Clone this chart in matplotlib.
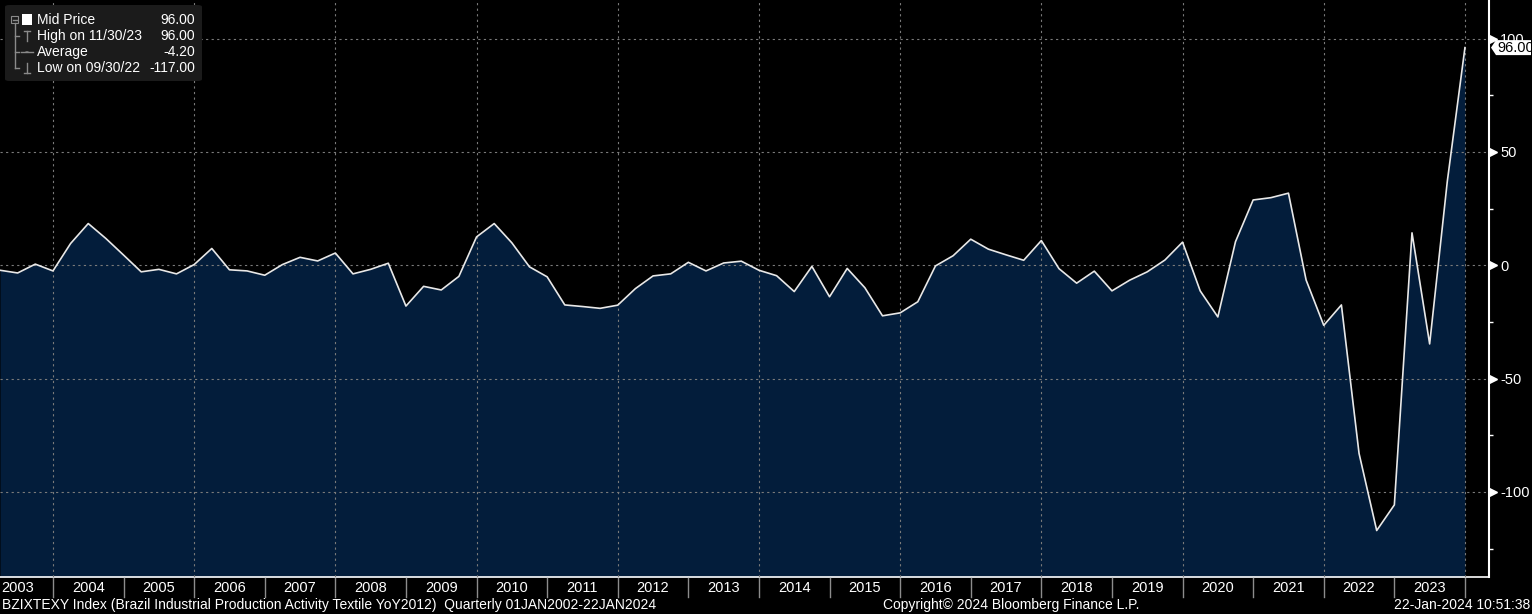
import matplotlib
matplotlib.use("Agg")
import matplotlib.pyplot as plt
from matplotlib.patches import Polygon, Rectangle, FancyBboxPatch, Circle
from matplotlib.lines import Line2D
import matplotlib.transforms as mtransforms
import pandas as pd

# ---------------- data ----------------
quarters = pd.period_range("2003Q1", "2023Q4", freq="Q")
values = [
    -2.2, -3.4, 0.5, -2.5,
    9.6, 18.4, 11.8, 4.5,
    -2.9, -1.8, -3.8, 0.3,
    7.4, -2.0, -2.5, -4.4,
    0.3, 3.5, 1.9, 5.4,
    -3.8, -1.8, 0.9, -18.0,
    -9.3, -10.9, -4.9, 12.5,
    18.4, 9.9, -0.7, -5.1,
    -17.5, -18.2, -19.0, -17.6,
    -10.3, -4.7, -3.8, 1.3,
    -2.5, 1.0, 1.8, -2.2,
    -4.6, -11.6, -0.5, -13.9,
    -1.4, -9.9, -22.3, -21.0,
    -16.1, -0.3, 4.2, 11.5,
    7.1, 4.6, 2.2, 10.9,
    -1.5, -7.9, -2.6, -11.3,
    -6.6, -2.9, 2.3, 10.2,
    -11.3, -22.8, 10.4, 28.8,
    29.8, 31.8, -6.5, -26.5,
    -17.5, -83.0, -117.0, -105.7,
    14.3, -34.7, 37.0, 96.0,
]
year_labels = [str(y) for y in range(2003, 2024)]
y_ticks = [-100, -50, 0, 50, 100]
y_minor = [-125, -75, -25, 25, 75]
legend_rows = [("Mid Price", "96.00"), ("High on 11/30/23", "96.00"),
               ("Average", "-4.20"), ("Low on 09/30/22", "-117.00")]
last_label = "96.00"
footer_left = "BZIXTEXY Index (Brazil Industrial Production Activity Textile YoY2012)  Quarterly 01JAN2002-22JAN2024"
footer_mid = "Copyright\u00a9 2024 Bloomberg Finance L.P."
footer_right = "22-Jan-2024 10:51:38"

# quarter-end position in decimal years
xpos = [q.year + q.quarter / 4.0 for q in quarters]

FONT = ["Liberation Sans", "DejaVu Sans"]
plt.rcParams["font.family"] = FONT

W, H = 1532, 614
fig = plt.figure(figsize=(W / 100, H / 100), dpi=100, facecolor="black")


def fx(x):
    return x / W


def fy(y):
    return 1 - y / H


AX_R, AX_B = 1489, 577
ax = fig.add_axes([0, fy(AX_B), fx(AX_R), AX_B / H])
ax.set_facecolor("black")
px_per_year = 70.6
x0 = 2003.25
ax.set_xlim(x0, x0 + AX_R / px_per_year)
ax.set_ylim(-137.5, 117.0)

ybot = ax.get_ylim()[0]
ax.fill_between(xpos, values, ybot, color="#031d3b", lw=0, zorder=1)
ax.plot(xpos, values, color="#e8e8e8", lw=1.2, zorder=3)

# grid
ax.set_axisbelow(False)
ax.set_xticks(list(range(2004, 2025, 2)))
ax.tick_params(axis="x", length=0, labelbottom=False)
ax.yaxis.tick_right()
ax.set_yticks(y_ticks)
ax.set_yticklabels([str(v) for v in y_ticks])
ax.set_yticks(y_minor, minor=True)
ax.tick_params(axis="y", which="major", length=0, pad=8, labelcolor="white",
               labelsize=10.5)
ax.tick_params(axis="y", which="minor", length=3, width=1, color="white",
               direction="out")
ax.grid(True, which="major", color="#7a7a7a", lw=0.8, ls=(0, (2, 3)))

for s in ["top", "left"]:
    ax.spines[s].set_visible(False)
ax.spines["right"].set_color("white")
ax.spines["right"].set_linewidth(1.5)
ax.spines["bottom"].set_color("white")
ax.spines["bottom"].set_linewidth(1.2)

# triangle major ticks
btrans = mtransforms.blended_transform_factory(ax.transAxes, ax.transData)
ax.plot([1.0 + 4.0 / AX_R] * len(y_ticks), y_ticks, ls="none", marker=">",
        ms=5.5, color="white", transform=btrans, clip_on=False, zorder=5)

# year labels and separators
xtr = mtransforms.blended_transform_factory(ax.transData, fig.transFigure)
for lab in year_labels:
    yv = int(lab)
    fig.text(yv + 0.5, fy(588), lab, transform=xtr, ha="center", va="center",
             color="white", fontsize=10.5, family=FONT)
for yb in range(2004, 2025):
    fig.add_artist(Line2D([yb, yb], [fy(578), fy(597)], transform=xtr,
                          color="#8c8c8c", lw=1))

# footer
fig.text(fx(2), fy(605), footer_left, ha="left", va="center", color="white",
         fontsize=10, family=FONT)
fig.text(fx(1011), fy(605), footer_mid, ha="center", va="center",
         color="white", fontsize=10, family=FONT)
fig.text(fx(1530), fy(605), footer_right, ha="right", va="center",
         color="white", fontsize=10, family=FONT)

# last value callout
fig.canvas.draw()
ydisp = ax.transData.transform((xpos[-1], values[-1]))[1]
ypix = H - ydisp
pts = [(1491, ypix), (1496, ypix - 7.5), (1531, ypix - 7.5),
       (1531, ypix + 7.5), (1496, ypix + 7.5)]
fig.add_artist(Polygon([(fx(a), fy(b)) for a, b in pts], closed=True,
                       transform=fig.transFigure, facecolor="white",
                       edgecolor="none", zorder=6))
fig.text(fx(1497), fy(ypix), last_label, ha="left", va="center", color="black",
         fontsize=10.5, family=FONT, zorder=7)

# legend box
fig.add_artist(FancyBboxPatch((fx(5), fy(81)), fx(197), 76 / H,
                              boxstyle="round,pad=0,rounding_size=0.003",
                              transform=fig.transFigure, facecolor="#1b1b1b",
                              edgecolor="none", zorder=6))
rows_y = [20, 36, 52, 68]
for (name, val), ry in zip(legend_rows, rows_y):
    fig.text(fx(37), fy(ry), name, ha="left", va="center", color="white",
             fontsize=10, family=FONT, zorder=8)
    fig.text(fx(195), fy(ry), val, ha="right", va="center", color="white",
             fontsize=10, family=FONT, zorder=8)

grey = "#8a8a8a"


def seg(xa, ya, xb, yb, c=grey, lw=1):
    fig.add_artist(Line2D([fx(xa), fx(xb)], [fy(ya), fy(yb)],
                          transform=fig.transFigure, color=c, lw=lw, zorder=8))


# tree: boxed minus
fig.add_artist(Rectangle((fx(11), fy(23)), 7 / W, 7 / H, transform=fig.transFigure,
                         facecolor="none", edgecolor=grey, lw=0.8, zorder=8))
seg(12.5, 19.5, 16.5, 19.5)
seg(14.5, 23, 14.5, 68)
for ry in rows_y[1:]:
    seg(14.5, ry, 19, ry)
# row 1: white square
fig.add_artist(Rectangle((fx(22), fy(25)), 10 / W, 11 / H, transform=fig.transFigure,
                         facecolor="white", edgecolor="none", zorder=8))
# row 2: high icon
seg(24, 31, 30, 31)
seg(27, 31, 27, 41)
# row 3: average icon
seg(21, 52, 33, 52)
fig.add_artist(Circle((fx(27), fy(52)), 1.8 / W, transform=fig.transFigure,
                      facecolor=grey, edgecolor="none", zorder=8))
# row 4: low icon
seg(27, 63, 27, 73)
seg(24, 73, 30, 73)

fig.savefig("out.png", dpi=100, facecolor="black")
